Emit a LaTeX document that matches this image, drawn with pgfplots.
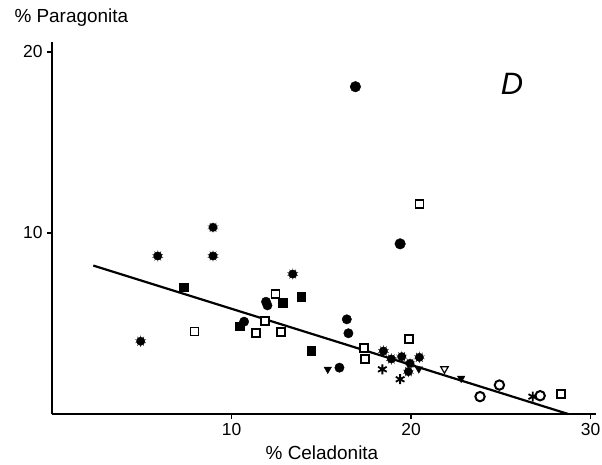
\documentclass[border=0pt]{standalone}
\usepackage{fontspec}
\setmainfont{Liberation Sans}
\usepackage{pgfplots}
\pgfplotsset{compat=1.18}
\usetikzlibrary{plotmarks}

\begin{document}
\begin{tikzpicture}
\path[use as bounding box] (-52bp,-51bp) rectangle (550bp,414bp);
\begin{axis}[
    at={(0,0)}, anchor=south west,
    scale only axis,
    width=544bp, height=372bp,
    xmin=0, xmax=30.3,
    ymin=0, ymax=20.55,
    axis x line=bottom,
    axis y line=left,
    axis line style={-, line width=1.8bp},
    xtick={10,20,30},
    ytick={10,20},
    tick align=outside,
    major tick length=5bp,
    tick style={line width=1.2bp, black},
    tick label style={font=\fontsize{17.5}{20}\selectfont},
    xticklabel style={yshift=-1bp},
    yticklabel style={xshift=-1bp},
    /pgf/number format/assume math mode=true,
    clip=false,
]
% regression line
\addplot[black, line width=2.2bp] coordinates {(2.3,8.2) (28.75,0)};

% open squares
\addplot[only marks, mark=square*, mark size=4bp,
  mark options={draw=black, fill=white, line width=1.6bp}] coordinates {
  (7.93,4.55) (12.44,6.63) (11.85,5.14) (11.36,4.49) (12.77,4.53)
  (17.38,3.66) (17.42,3.04) (19.87,4.13) (20.46,11.6) (28.34,1.1)
};
% filled squares
\addplot[only marks, mark=square*, mark size=4.2bp,
  mark options={draw=black, fill=black}] coordinates {
  (7.34,7.0) (12.85,6.15) (13.87,6.48) (10.45,4.85) (14.43,3.5)
};
% filled circles
\addplot[only marks, mark=*, mark size=5.3bp,
  mark options={draw=black, fill=black}] coordinates {
  (16.9,18.08) (19.39,9.4)
};
\addplot[only marks, mark=*, mark size=4.7bp,
  mark options={draw=black, fill=black}] coordinates {
  (11.92,6.2) (12.0,6.0) (10.7,5.1) (16.42,5.23) (16.51,4.46) (16.01,2.56)
};
% rosettes
\addplot[only marks, mark=*, mark size=4.2bp,
  mark options={draw=black, fill=black}] coordinates {
  (8.97,10.31) (5.89,8.73) (8.97,8.73) (4.94,4.02) (13.41,7.73)
  (18.46,3.48) (18.9,3.04) (19.48,3.17) (20.46,3.13) (19.94,2.8) (19.85,2.34)
};
\addplot[only marks, mark=10-pointed star, mark size=5.6bp,
  mark options={draw=black, fill=black}] coordinates {
  (8.97,10.31) (5.89,8.73) (8.97,8.73) (4.94,4.02) (13.41,7.73)
  (18.46,3.48) (18.9,3.04) (19.48,3.17) (20.46,3.13) (19.94,2.8) (19.85,2.34)
};
% filled triangles down
\addplot[only marks, mark=triangle*, mark size=4.3bp,
  mark options={rotate=180, draw=black, fill=black}] coordinates {
  (15.36,2.47) (20.43,2.49) (22.79,1.97)
};
% open triangle down
\addplot[only marks, mark=triangle*, mark size=4.3bp,
  mark options={rotate=180, draw=black, fill=white, line width=1.2bp}] coordinates {
  (21.86,2.49)
};
% asterisks
\addplot[only marks, mark=asterisk, mark size=5bp,
  mark options={draw=black, line width=1.8bp}] coordinates {
  (18.4,2.47) (19.39,1.92) (26.78,0.96)
};
% open circles
\addplot[only marks, mark=*, mark size=4.7bp,
  mark options={draw=black, fill=white, line width=2bp}] coordinates {
  (24.92,1.6) (23.84,0.96) (27.19,1.01)
};
\end{axis}
\node[anchor=west, font=\fontsize{19}{22}\selectfont] at (-41bp,396bp) {\% Paragonita};
\node[font=\fontsize{19}{22}\selectfont] at (270bp,-39bp) {\% Celadonita};
\node[font=\fontsize{31}{35}\selectfont\itshape] at (460bp,330bp) {D};
\end{tikzpicture}
\end{document}
